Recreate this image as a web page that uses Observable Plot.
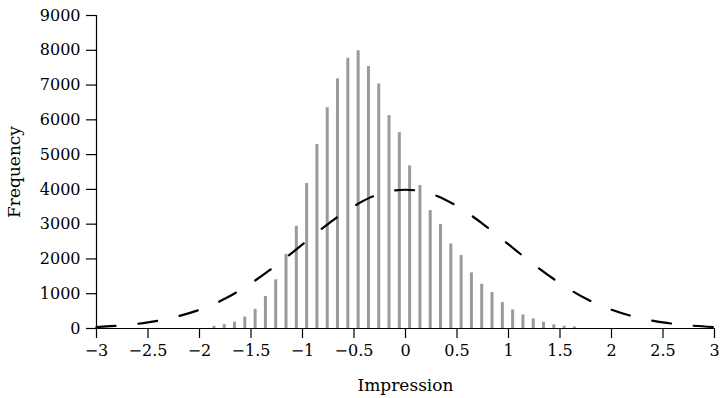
<!DOCTYPE html>
<html>
<head>
<meta charset="utf-8">
<script src="https://cdn.jsdelivr.net/npm/d3@7"></script>
<script src="https://cdn.jsdelivr.net/npm/@observablehq/plot@0.6"></script>
<style>
  html, body { margin: 0; padding: 0; background: #fff; }
  #chart svg { display: block; }
  #chart svg g[aria-label="x-axis tick label"],
  #chart svg g[aria-label="y-axis tick label"] { font-size: 16px; font-family: "DejaVu Serif"; }
</style>
</head>
<body>
<div id="chart"></div>
<script>
// Histogram bins (bin position, frequency)
const binX = [-1.86, -1.76, -1.66, -1.56, -1.46, -1.36, -1.26, -1.16, -1.06, -0.96,
              -0.86, -0.76, -0.66, -0.56, -0.46, -0.36, -0.26, -0.16, -0.06, 0.04,
              0.14, 0.24, 0.34, 0.44, 0.54, 0.64, 0.74, 0.84, 0.94, 1.04,
              1.14, 1.24, 1.34, 1.44, 1.54, 1.64];
const binCount = [60, 110, 180, 330, 550, 920, 1400, 2130, 2940, 4170,
                  5290, 6350, 7180, 7770, 7990, 7530, 7030, 6120, 5630, 4675,
                  4110, 3390, 2990, 2430, 2100, 1600, 1270, 1035, 745, 535,
                  390, 275, 180, 105, 65, 45];

// Dashed reference curve
const curveX = [-3, -2.75, -2.5, -2.25, -2, -1.75, -1.5, -1.25, -1, -0.75, -0.5, -0.25, 0,
                0.25, 0.5, 0.75, 1, 1.25, 1.5, 1.75, 2, 2.25, 2.5, 2.75, 3];
const curveY = [40, 90, 175, 320, 540, 860, 1300, 1830, 2420, 3010, 3520, 3870, 3990,
                3870, 3520, 3010, 2420, 1830, 1300, 860, 540, 320, 175, 90, 40];

const xTicks = [-3, -2.5, -2, -1.5, -1, -0.5, 0, 0.5, 1, 1.5, 2, 2.5, 3];
const yTicks = [0, 1000, 2000, 3000, 4000, 5000, 6000, 7000, 8000, 9000];

const bins = binX.map((x, i) => ({x, count: binCount[i]}));
const curve = curveX.map((x, i) => ({x, y: curveY[i]}));

const fmtX = d3.format("");

const chart = Plot.plot({
  width: 722,
  height: 398,
  marginLeft: 96,
  marginRight: 8,
  marginTop: 15,
  marginBottom: 70,
  style: {fontFamily: "DejaVu Serif", fontSize: "16px", color: "#000", background: "#fff"},
  x: {domain: [-3, 3]},
  y: {domain: [0, 9000]},
  marks: [
    Plot.ruleX(bins, {x: "x", y1: 0, y2: "count", stroke: "#9a9a9a", strokeWidth: 3}),
    Plot.line(curve, {x: "x", y: "y", stroke: "#000", strokeWidth: 2.2,
                      strokeDasharray: "19,23", curve: "catmull-rom"}),
    Plot.ruleY([0], {x1: -3, x2: 3, stroke: "#000", strokeWidth: 1.2}),
    Plot.ruleX([-3], {y1: 0, y2: 9000, stroke: "#000", strokeWidth: 1.2}),
    Plot.axisX({ticks: xTicks, tickSize: 10, tickPadding: 6, tickFormat: fmtX,
                fontSize: 16, label: null, strokeWidth: 1.2}),
    Plot.axisY({ticks: yTicks, tickSize: 10, tickPadding: 6, tickFormat: d => String(d),
                fontSize: 16, label: null, strokeWidth: 1.2}),
    Plot.text(["Impression"], {frameAnchor: "bottom", dy: 62, text: d => d,
                               fontSize: 17, lineAnchor: "bottom"}),
    Plot.text(["Frequency"], {frameAnchor: "left", dx: -82, text: d => d,
                              fontSize: 17, rotate: -90, textAnchor: "middle"})
  ]
});
document.getElementById("chart").appendChild(chart);
</script>
</body>
</html>
